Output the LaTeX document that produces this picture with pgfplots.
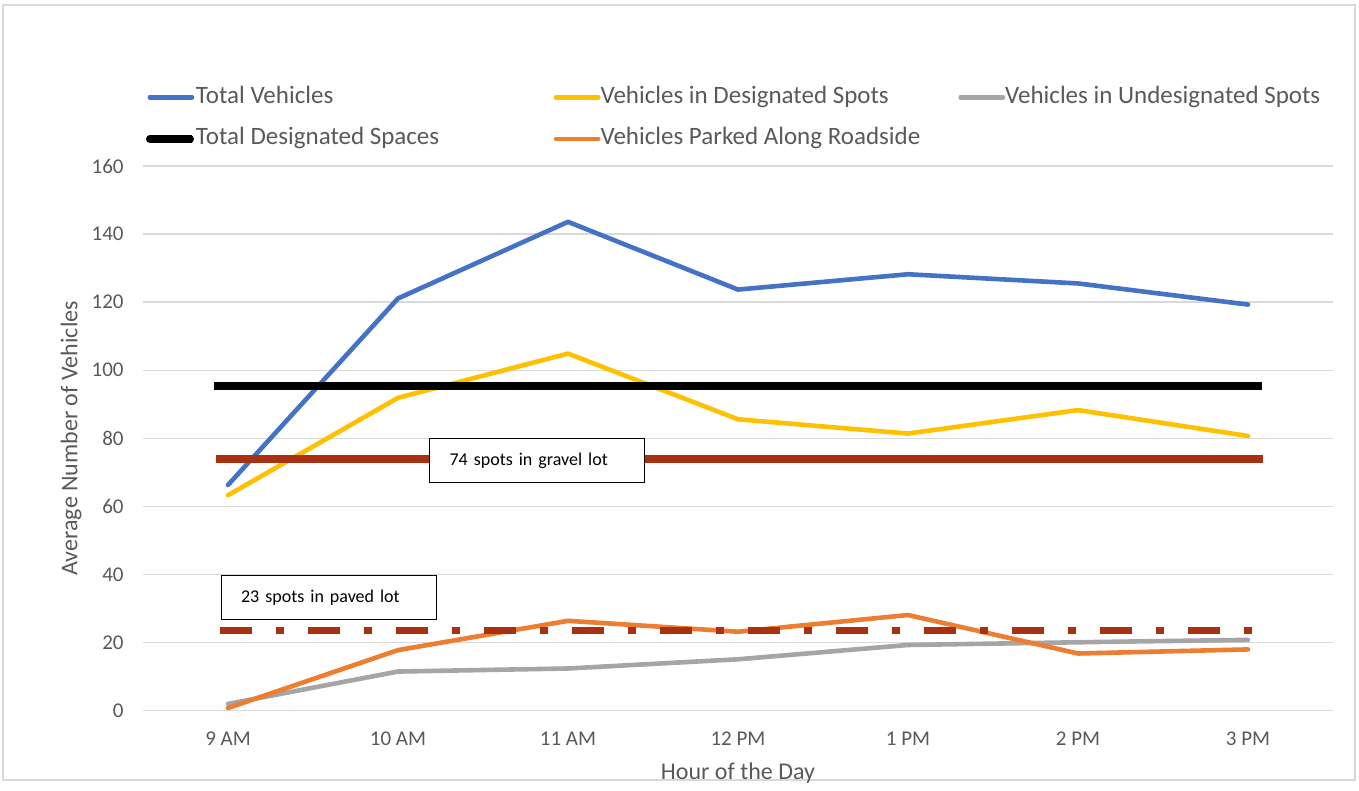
\documentclass[border=0pt]{standalone}
\usepackage{pgfplots}
\pgfplotsset{compat=1.18}
\usepackage{fontspec}
\setmainfont{Carlito}
\definecolor{cBlue}{HTML}{4472C4}
\definecolor{cYellow}{HTML}{FFC000}
\definecolor{cGray}{HTML}{A5A5A5}
\definecolor{cOrange}{HTML}{ED7D31}
\definecolor{cRed}{RGB}{168,49,17}
\definecolor{cGrid}{HTML}{D9D9D9}
\definecolor{cText}{HTML}{595959}
\begin{document}
\begin{tikzpicture}
\useasboundingbox (0,0) rectangle (679.5pt,395.5pt);
\draw[cGrid, line width=0.6pt] (1.5pt,5.5pt) rectangle (677.5pt,393pt);
\begin{axis}[
  at={(71.5pt,40.15pt)}, anchor=south west,
  scale only axis, width=595pt, height=272.35pt,
  xmin=-0.5, xmax=6.5, ymin=0, ymax=160,
  xtick={0,1,2,3,4,5,6},
  xticklabels={9 AM,10 AM,11 AM,12 PM,1 PM,2 PM,3 PM},
  ytick={0,20,40,60,80,100,120,140,160},
  axis line style={draw=none},
  major tick style={draw=none},
  ymajorgrids, major grid style={draw=cGrid, line width=0.75pt},
  /pgf/number format/assume math mode=true,
  ticklabel style={font=\fontsize{10.5}{12}\selectfont, text=cText},
  yticklabel style={inner sep=0pt, anchor=east, xshift=-9.5pt},
  xticklabel style={inner sep=0pt, anchor=north, yshift=-10.5pt},
  xlabel={Hour of the Day}, ylabel={Average Number of Vehicles},
  label style={font=\fontsize{12}{14}\selectfont, text=cText},
  xlabel style={at={(axis description cs:0.5,-0.115)}, anchor=center},
  ylabel style={at={(axis description cs:-0.0605,0.5)}, anchor=center},
  legend columns=3,
  legend image code/.code={\draw[#1, line cap=round] (0pt,0pt) -- (20pt,0pt); \path (0pt,0pt) -- (21pt,0pt);},
  legend style={draw=none, fill=none, inner sep=0pt, outer sep=0pt,
    at={(axis description cs:0.0025,1.1482)}, anchor=north west,
    font=\fontsize{12.5}{15}\selectfont, text=cText,
    row sep=8.8pt, column sep=0pt,
    nodes={inner sep=0pt, text height=9pt, text depth=3pt},
    cells={anchor=west}},
  every axis plot/.append style={line join=round, line cap=round},
]
\addplot[cBlue, line width=2.3pt] coordinates {(0,66.3) (1,121.1) (2,143.6) (3,123.7) (4,128.2) (5,125.5) (6,119.3)};
\addlegendentry{\makebox[179pt][l]{Total Vehicles}}
\addplot[cYellow, line width=2.3pt] coordinates {(0,63.3) (1,91.9) (2,104.9) (3,85.6) (4,81.4) (5,88.3) (6,80.7)};
\addlegendentry{\makebox[179pt][l]{Vehicles in Designated Spots}}
\addplot[cGray, line width=2.3pt] coordinates {(0,2.0) (1,11.5) (2,12.4) (3,15.1) (4,19.3) (5,20.1) (6,20.8)};
\addlegendentry{Vehicles in Undesignated Spots}
\addplot[black, line width=4pt, line cap=butt] coordinates {(-0.082,95.5) (6.08,95.5)};
\addlegendentry{\makebox[179pt][l]{Total Designated Spaces}}
\addplot[cOrange, line width=2.3pt] coordinates {(0,0.8) (1,17.8) (2,26.4) (3,23.2) (4,28.1) (5,16.8) (6,18.0)};
\addlegendentry{\makebox[179pt][l]{Vehicles Parked Along Roadside}}
\addplot[cRed, line width=4pt, line cap=butt, forget plot] coordinates {(-0.071,74) (6.088,74)};
\addplot[cRed, line width=3.5pt, line cap=butt, dash pattern=on 16pt off 12pt on 4pt off 12pt, forget plot] coordinates {(-0.047,23.7) (6.024,23.7)};
\node[draw=black, line width=0.6pt, fill=white, anchor=north west, inner xsep=10pt, inner ysep=0pt,
  text width=87.5pt, minimum height=22pt, align=left, font=\fontsize{9}{11}\selectfont]
  at (axis cs:1.182,80.07) {74 spots in gravel lot};
\node[draw=black, line width=0.6pt, fill=white, anchor=north west, inner xsep=10pt, inner ysep=0pt,
  text width=87.5pt, minimum height=22pt, align=left, font=\fontsize{9}{11}\selectfont]
  at (axis cs:-0.044,39.84) {23 spots in paved lot};
\end{axis}
\end{tikzpicture}
\end{document}
